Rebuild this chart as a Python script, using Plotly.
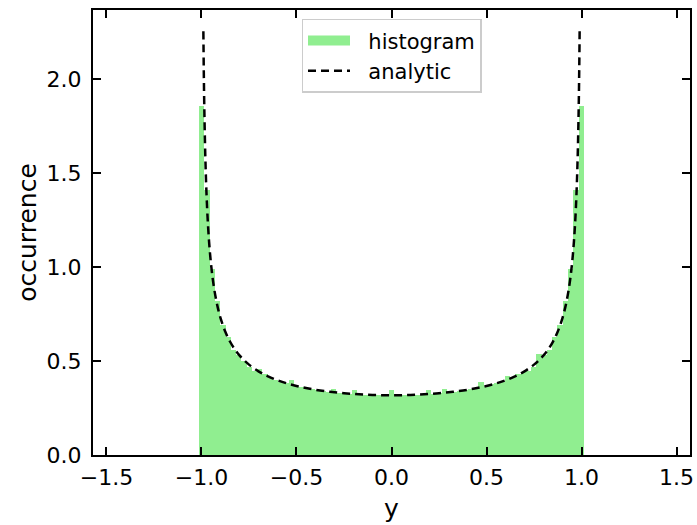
import numpy as np
import plotly.graph_objects as go

# Histogram definition (73 bins between -1.012 and 1.012)
bin_lo, bin_hi, n_bins = -1.012, 1.012, 73
hist_values = [
    1.86, 1.41, 0.99, 0.82, 0.69, 0.63, 0.56, 0.53, 0.50, 0.47,
    0.45, 0.46, 0.43, 0.41, 0.40, 0.39, 0.385, 0.40, 0.37, 0.36,
    0.355, 0.35, 0.345, 0.34, 0.335, 0.35, 0.33, 0.328, 0.325, 0.345,
    0.322, 0.32, 0.32, 0.318, 0.318, 0.317, 0.345, 0.317, 0.318, 0.318,
    0.319, 0.32, 0.322, 0.345, 0.325, 0.328, 0.35, 0.333, 0.337, 0.34,
    0.345, 0.35, 0.355, 0.39, 0.37, 0.38, 0.385, 0.39, 0.42, 0.41,
    0.43, 0.44, 0.45, 0.47, 0.54, 0.53, 0.56, 0.63, 0.69, 0.82,
    0.99, 1.41, 1.86,
]

# Analytic curve points
analytic_y = [-0.99, -0.988, -0.985, -0.98, -0.975, -0.97, -0.965, -0.96, -0.955, -0.95,
              -0.945, -0.94, -0.93, -0.915, -0.9, -0.875, -0.85, -0.825, -0.8, -0.775,
              -0.75, -0.7, -0.65, -0.6, -0.55, -0.5, -0.45, -0.4, -0.35, -0.3,
              -0.25, -0.2, -0.15, -0.1, -0.05, 0.0,
              0.05, 0.1, 0.15, 0.2, 0.25, 0.3, 0.35, 0.4, 0.45, 0.5,
              0.55, 0.6, 0.65, 0.7, 0.75, 0.775, 0.8, 0.825, 0.85, 0.875,
              0.9, 0.915, 0.93, 0.94, 0.945, 0.95, 0.955, 0.96, 0.965, 0.97,
              0.975, 0.98, 0.985, 0.988, 0.99]
analytic_p = [2.2564, 2.0609, 1.8447, 1.5996, 1.4325, 1.3094, 1.2139, 1.1368, 1.0732, 1.0195,
              0.9732, 0.9330, 0.8660, 0.7889, 0.7303, 0.6575, 0.6043, 0.5633, 0.5305, 0.5037,
              0.4813, 0.4457, 0.4189, 0.3979, 0.3811, 0.3676, 0.3564, 0.3473, 0.3398, 0.3337,
              0.3288, 0.3249, 0.3220, 0.3199, 0.3187, 0.3183,
              0.3187, 0.3199, 0.3220, 0.3249, 0.3288, 0.3337, 0.3398, 0.3473, 0.3564, 0.3676,
              0.3811, 0.3979, 0.4189, 0.4457, 0.4813, 0.5037, 0.5305, 0.5633, 0.6043, 0.6575,
              0.7303, 0.7889, 0.8660, 0.9330, 0.9732, 1.0195, 1.0732, 1.1368, 1.2139, 1.3094,
              1.4325, 1.5996, 1.8447, 2.0609, 2.2564]

x_ticks = [-1.5, -1.0, -0.5, 0.0, 0.5, 1.0, 1.5]
y_ticks = [0.0, 0.5, 1.0, 1.5, 2.0]

edges = np.linspace(bin_lo, bin_hi, n_bins + 1)
centers = 0.5 * (edges[:-1] + edges[1:])
widths = np.diff(edges)

FONT = "DejaVu Sans"
GREEN = "#90EE90"
PAD = "\u00a0\u00a0"

fig = go.Figure()
fig.add_trace(go.Bar(
    x=centers, y=hist_values, width=widths,
    marker=dict(color=GREEN, line=dict(width=0)),
    name="histogram", showlegend=False,
))
# legend-only entry drawn as a wide green patch
fig.add_trace(go.Scatter(
    x=[None], y=[None], mode="lines",
    line=dict(color=GREEN, width=14),
    name=PAD + "histogram", legendrank=1,
))
fig.add_trace(go.Scatter(
    x=analytic_y, y=analytic_p, mode="lines",
    line=dict(color="black", width=2.5, dash="8px,5px", shape="spline"),
    name=PAD + "analytic", legendrank=2,
))

axis_common = dict(
    showline=True, linecolor="black", linewidth=2, mirror="ticks",
    ticks="inside", ticklen=8, tickwidth=1.5, tickcolor="black",
    showgrid=False, zeroline=False,
    tickfont=dict(family=FONT, size=22, color="black"),
)

fig.update_layout(
    width=697, height=525,
    margin=dict(l=93, r=7, t=10, b=70, autoexpand=False),
    paper_bgcolor="white", plot_bgcolor="white",
    bargap=0,
    showlegend=True,
    legend=dict(
        x=0.5, xanchor="center", y=0.98, yanchor="top",
        bgcolor="rgba(255,255,255,0.9)", bordercolor="#cccccc", borderwidth=1.5,
        font=dict(family=FONT, size=21, color="black"),
        itemwidth=42, tracegroupgap=0,
    ),
    xaxis=dict(
        range=[-np.pi / 2, np.pi / 2], tickvals=x_ticks,
        ticktext=[("\u2212" if v < 0 else "") + f"{abs(v):.1f}" for v in x_ticks],
        ticklabelstandoff=2,
        title=dict(text="y", font=dict(family=FONT, size=25, color="black"), standoff=10),
        **axis_common,
    ),
    yaxis=dict(
        range=[0, 2.37], tickvals=y_ticks,
        ticktext=[f"{v:.1f}" for v in y_ticks],
        ticklabelstandoff=5,
        title=dict(text="occurrence", font=dict(family=FONT, size=25, color="black"), standoff=3),
        **axis_common,
    ),
)

fig.write_html(
    "out.html",
    config={"displayModeBar": False},
    post_script="document.body.style.margin='0px';document.body.style.overflow='hidden';",
)
